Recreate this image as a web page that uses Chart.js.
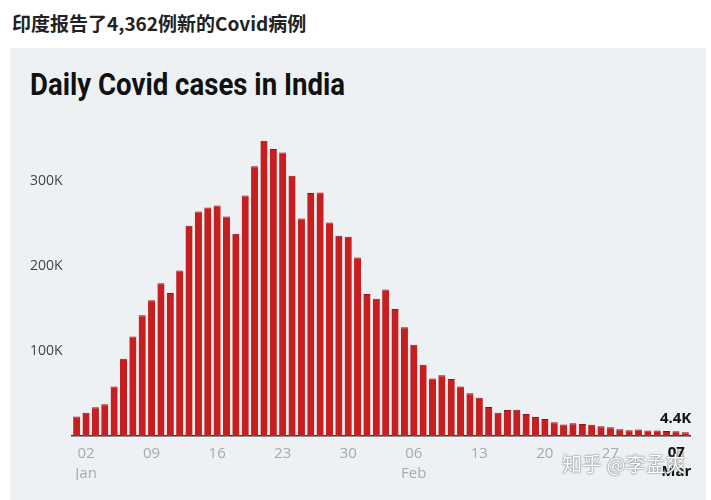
<!DOCTYPE html>
<html>
<head>
<meta charset="utf-8">
<script src="https://cdn.jsdelivr.net/npm/chart.js@4"></script>
<style>
  body { margin: 0; background: #fff; width: 711px; height: 500px; overflow: hidden; position: relative; font-family: 'Open Sans', sans-serif; }
  #headline { position: absolute; left: 12px; top: 9px; font-family: 'Noto Sans CJK SC', sans-serif; font-weight: 700; font-size: 19px; color: #222; white-space: nowrap; }
  #panel { position: absolute; left: 10px; top: 48px; width: 696px; height: 452px; background: #edf1f4; }
  #title { position: absolute; left: 30px; top: 66px; font-family: Roboto, sans-serif; font-weight: 700; font-size: 31px; color: #111; white-space: nowrap; transform-origin: left top; }
  #wrap { position: absolute; left: 10px; top: 0; width: 696px; height: 500px; }
  #mark { position: absolute; left: 562px; top: 449px; font-family: 'Noto Sans CJK SC', sans-serif; font-size: 20px; color: #fff; text-shadow: 0 0 2px #777, 0 0 1px #555; white-space: nowrap; }
</style>
</head>
<body>
<div id="headline">印度报告了4,362例新的Covid病例</div>
<div id="panel"></div>
<div id="title">Daily Covid cases in India</div>
<div id="wrap"><canvas id="myChart"></canvas></div>
<div id="mark">知乎 @李孟爽</div>
<script>
// datos: 1 ene - 7 mar
var dias = [];
var meses = ['Jan', 'Feb', 'Mar'];
var diasMes = [31, 28, 7];
meses.forEach((m, i) => {
  for (let d = 1; d <= diasMes[i]; d++) dias.push({ dia: d < 10 ? '0' + d : '' + d, mes: m });
});

var casos = [
  22800, 27500, 33800, 37400, 58100, 90900, 117100, 142000, 159600, 179700,
  168100, 194700, 247400, 264200, 268800, 271200, 258100, 238000, 283000, 317500,
  347300, 337700, 333500, 306100, 255900, 285900, 286400, 251200, 235500, 234300,
  209900, 167100, 161400, 172400, 149400, 128000, 107500, 83900, 67600, 71400,
  67100, 58100, 50400, 44900, 34100, 27400, 30600, 30800, 25900, 22300,
  20000, 16100, 13400, 15100, 14100, 13200, 11500, 10300, 8000, 6900,
  7600, 6600, 6400, 5900, 5500, 4400
];

var yTicks = [100000, 200000, 300000];
var etiquetaFinal = '4.4K';

// titulo condensado
var title = document.querySelector('#title');
title.style.transform = 'scaleX(' + (315 / title.scrollWidth) + ')';

var ultimo = casos.length - 1;

var finalPlugin = {
  id: 'finalPlugin',
  afterDatasetsDraw: (chart) => {
    let ctx = chart.ctx;
    let bar = chart.getDatasetMeta(0).data[ultimo];
    ctx.save();
    ctx.fillStyle = '#111';
    ctx.font = 'bold 15px "Open Sans"';
    ctx.textAlign = 'right';
    ctx.textBaseline = 'bottom';
    ctx.fillText(etiquetaFinal, bar.x + 6, bar.y - 6);
    // ultima fecha en negrita
    ctx.textAlign = 'center';
    ctx.textBaseline = 'middle';
    ctx.font = 'bold 15px "Open Sans"';
    ctx.fillText(dias[ultimo].dia, bar.x - 9, chart.chartArea.bottom + 17);
    ctx.fillText(dias[ultimo].mes, bar.x - 9, chart.chartArea.bottom + 36);
    ctx.restore();
  }
};

var ctx = document.getElementById('myChart').getContext('2d');
var chart = new Chart(ctx, {
  type: 'bar',
  data: {
    labels: dias.map((d) => d.dia),
    datasets: [{
      data: casos,
      backgroundColor: '#c71f20',
      borderColor: '#8f1414',
      borderWidth: { top: 1 },
      borderSkipped: 'bottom',
      barPercentage: 0.76,
      categoryPercentage: 1
    }]
  },
  options: {
    responsive: true,
    maintainAspectRatio: false,
    animation: false,
    layout: { padding: { left: 20, right: 16, top: 113, bottom: 20 } },
    plugins: { legend: { display: false }, tooltip: { enabled: false } },
    scales: {
      x: {
        grid: { display: false, drawTicks: false },
        border: { display: true, color: '#333', width: 1.5 },
        afterFit: (s) => { s.height = 44; },
        ticks: {
          autoSkip: false,
          maxRotation: 0,
          padding: 8,
          color: '#a9a9a9',
          font: { size: 15, family: 'Open Sans', lineHeight: 1.3 },
          callback: (val, i) => {
            if (i === ultimo || i % 7 !== 1) return '';
            let d = dias[i];
            return (d.dia === '02' && d.mes === 'Jan') || (d.dia === '06' && d.mes === 'Feb') ? [d.dia, d.mes] : d.dia;
          }
        }
      },
      y: {
        min: 0,
        max: 380000,
        grid: { display: false, drawTicks: false },
        border: { display: false },
        afterFit: (s) => { s.width = 42; },
        afterBuildTicks: (s) => { s.ticks = [0].concat(yTicks).map((v) => ({ value: v })); },
        ticks: {
          crossAlign: 'far',
          padding: 0,
          color: '#444',
          font: { size: 14, family: 'Open Sans' },
          callback: (v) => v === 0 ? '' : (v / 1000) + 'K'
        }
      }
    }
  },
  plugins: [finalPlugin]
});
</script>
</body>
</html>
